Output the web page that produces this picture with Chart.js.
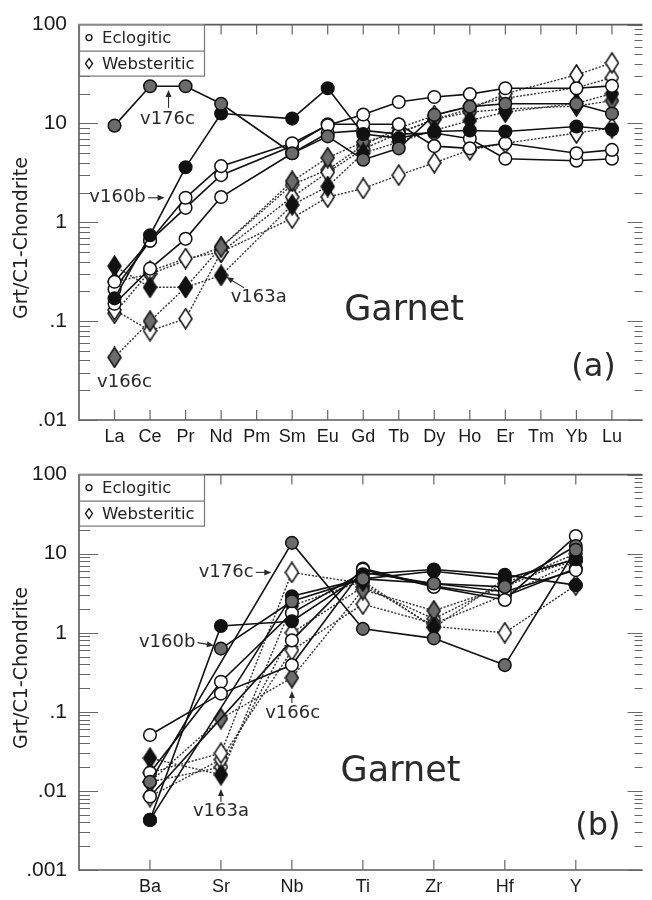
<!DOCTYPE html>
<html>
<head>
<meta charset="utf-8">
<script src="https://cdn.jsdelivr.net/npm/chart.js@4.4.0/dist/chart.umd.min.js"></script>
<style>
  body { margin: 0; background: #fff; }
  .panel { position: absolute; left: 0; width: 652px; height: 450px; }
</style>
</head>
<body>
<div class="panel" style="top:0"><canvas id="reeChart" width="652" height="450"></canvas></div>
<div class="panel" style="top:450px"><canvas id="traceChart" width="652" height="450"></canvas></div>
<script>
// ---- (a) rare earth elements, garnet / C1 chondrite ----
const reeLabels = ['La', 'Ce', 'Pr', 'Nd', 'Pm', 'Sm', 'Eu', 'Gd', 'Tb', 'Dy', 'Ho', 'Er', 'Tm', 'Yb', 'Lu'];
const reeTicks = [0.01, 0.1, 1, 10, 100];

// eclogitic garnets
const reeV176c = [9.5, 23.8, 23.8, 15.8, null, 5.0, 7.4, 4.3, 5.6, 12.2, 14.8, 15.8, null, 15.8, 12.6];
const reeV160b = [0.17, 0.74, 3.6, 12.6, null, 11.2, 22.7, 7.8, 7.1, 8.3, 8.5, 8.3, null, 9.3, 8.7];
const reeEclA = [0.25, 0.65, 1.77, 3.7, null, 6.3, 9.6, 12.3, 16.5, 18.5, 19.8, 22.7, null, 22.7, 24];
const reeEclB = [0.21, 0.65, 1.4, 3.0, null, 5.9, 9.8, 9.8, 9.8, 5.9, 5.6, 6.3, null, 5.0, 5.4];
const reeEclC = [0.15, 0.34, 0.68, 1.8, null, 5.0, 8.0, 8.5, 7.8, 8.0, 7.0, 4.4, null, 4.2, 4.4];
// websteritic garnets
const reeV163a = [0.36, 0.22, 0.22, 0.29, null, 1.5, 2.3, 5.0, 6.5, 8.5, 10.7, 13, null, 16, 20];
const reeV166c = [0.043, 0.10, 0.22, 0.56, null, 2.6, 4.5, 6.5, 8.0, 11, 13, 14, null, 15, 17];
const reeWebA = [0.13, 0.08, 0.106, 0.5, null, 1.1, 1.8, 2.2, 3.0, 4.0, 5.4, 6.3, null, 8.0, 9.0];
const reeWebB = [0.12, 0.32, 0.43, 0.5, null, 1.8, 3.2, 5.5, 8.0, 11, 14, 20, null, 31, 41];
const reeWebC = [0.25, 0.3, null, 0.56, null, 2.4, 3.4, 6.0, 9.0, 12, 15, 18, null, 23, 29];

// ---- (b) trace elements ----
const traceLabels = ['Ba', 'Sr', 'Nb', 'Ti', 'Zr', 'Hf', 'Y'];
const traceTicks = [0.001, 0.01, 0.1, 1, 10, 100];

const trV176c = [0.013, null, 13.7, 1.12, 0.85, 0.39, 11.2];
const trV160b = [null, 0.63, 2.5, 4.8, 4.2, 3.8, 12.5];
const trEclA = [0.0043, 1.22, 1.4, 5.5, 6.3, 5.4, 4.0];
const trEclB = [0.0043, null, 2.9, 4.8, 6.0, 4.8, 8.5];
const trEclC = [0.051, 0.17, 0.39, 6.3, 3.8, 2.6, 16.7];
const trEclD = [0.017, 0.24, 1.77, 5.8, 4.2, 3.3, 6.2];
const trEclE = [0.0085, null, 0.8, 6.5, 3.9, 2.9, 6.5];

const trV163a = [0.026, 0.016, 2.2, 4.5, 1.16, 4.8, 8.0];
const trV166c = [0.013, 0.082, 0.27, 3.5, 1.9, 3.8, 9.0];
const trWebA = [0.017, 0.03, 5.8, 4.2, 1.2, 1.0, 4.0];
const trWebB = [0.0085, 0.025, 0.6, 2.3, 1.3, 3.0, 8.0];
const trWebC = [0.013, 0.02, 1.0, 3.8, 1.5, 4.2, 10];

const fills = { open: '#ffffff', black: '#111111', grey: '#6b6b6b' };

// tall diamond marker used for websteritic samples
function makeDiamond(fill) {
  const c = document.createElement('canvas');
  c.width = 15; c.height = 22;
  const g = c.getContext('2d');
  g.beginPath();
  g.moveTo(7.5, 1); g.lineTo(14, 11); g.lineTo(7.5, 21); g.lineTo(1, 11); g.closePath();
  g.fillStyle = fill; g.fill();
  g.strokeStyle = '#111'; g.lineWidth = 1.5; g.stroke();
  return c;
}
const diamonds = {
  open: makeDiamond(fills.open),
  black: makeDiamond(fills.black),
  grey: makeDiamond(fills.grey)
};

function toDataset(s) {
  const ecl = s.shape === 'circle';
  return {
    data: s.values.map((v, i) => ({ x: i, y: v })),
    showLine: true,
    spanGaps: true,
    tension: 0,
    borderColor: ecl ? '#111' : '#333',
    borderWidth: ecl ? 1.6 : 1.4,
    borderDash: ecl ? [] : [2, 1.6],
    pointStyle: ecl ? 'circle' : diamonds[s.fill],
    pointRadius: ecl ? 6.3 : 8,
    pointBackgroundColor: fills[s.fill],
    pointBorderColor: '#111',
    pointBorderWidth: 1.5,
    order: ecl ? 1 : 2
  };
}

const tickText = v => String(v).replace(/^0\./, '.');

// frame, category ticks and log minor ticks on both sides
const framePlugin = {
  id: 'frame',
  beforeDatasetsDraw(chart) {
    const { ctx, chartArea: a, scales: { x, y } } = chart;
    ctx.save();
    ctx.strokeStyle = '#5a5a5a';
    ctx.lineWidth = 1.6;
    ctx.beginPath();
    ctx.moveTo(a.right, a.top); ctx.lineTo(a.left, a.top); ctx.lineTo(a.left, a.bottom); ctx.lineTo(a.right, a.bottom);
    ctx.stroke();
    ctx.lineWidth = 1.2;
    ctx.strokeStyle = '#666';
    ctx.beginPath();
    x.ticks.forEach(t => {
      const px = x.getPixelForValue(t.value);
      ctx.moveTo(px, a.top); ctx.lineTo(px, a.top + 10);
      ctx.moveTo(px, a.bottom); ctx.lineTo(px, a.bottom - 10);
    });
    for (let d = Math.round(Math.log10(y.min)); d <= Math.round(Math.log10(y.max)); d++) {
      for (let m = 1; m <= 9; m++) {
        const v = m * Math.pow(10, d);
        if (v > y.max * 1.0001) break;
        const py = Math.round(y.getPixelForValue(v)) + 0.5;
        ctx.moveTo(a.left, py); ctx.lineTo(a.left + (m === 1 ? 19 : 11), py);
        ctx.moveTo(a.right, py); ctx.lineTo(a.right - (m === 1 ? 15 : 8), py);
      }
    }
    ctx.stroke();
    ctx.restore();
  }
};

function arrow(ctx, x0, y0, x1, y1) {
  const ang = Math.atan2(y1 - y0, x1 - x0);
  ctx.beginPath();
  ctx.moveTo(x0, y0); ctx.lineTo(x1 - 5 * Math.cos(ang), y1 - 5 * Math.sin(ang));
  ctx.stroke();
  ctx.beginPath();
  ctx.moveTo(x1, y1);
  ctx.lineTo(x1 - 7 * Math.cos(ang) + 3 * Math.sin(ang), y1 - 7 * Math.sin(ang) - 3 * Math.cos(ang));
  ctx.lineTo(x1 - 7 * Math.cos(ang) - 3 * Math.sin(ang), y1 - 7 * Math.sin(ang) + 3 * Math.cos(ang));
  ctx.closePath();
  ctx.fill();
}

// legend box, sample labels, panel name and the y axis title
const notesPlugin = {
  id: 'notes',
  afterDatasetsDraw(chart, args, opts) {
    const { ctx, chartArea: a, scales: { x, y } } = chart;
    ctx.save();
    ctx.fillStyle = '#fff';
    ctx.fillRect(a.left, a.top, 125, 51);
    ctx.strokeStyle = '#777';
    ctx.lineWidth = 1.2;
    ctx.strokeRect(a.left + 0.5, a.top + 0.5, 125, 51);
    ctx.beginPath();
    ctx.moveTo(a.left, a.top + 26.5); ctx.lineTo(a.left + 125, a.top + 26.5);
    ctx.stroke();
    ctx.strokeStyle = '#111';
    ctx.lineWidth = 1.3;
    ctx.beginPath();
    ctx.arc(a.left + 10, a.top + 13, 3, 0, Math.PI * 2);
    ctx.stroke();
    ctx.beginPath();
    const dx = a.left + 10, dy = a.top + 39;
    ctx.moveTo(dx, dy - 5); ctx.lineTo(dx + 3.5, dy); ctx.lineTo(dx, dy + 5); ctx.lineTo(dx - 3.5, dy); ctx.closePath();
    ctx.stroke();
    ctx.fillStyle = '#222';
    ctx.font = '16.5px "DejaVu Sans"';
    ctx.textBaseline = 'middle';
    ctx.textAlign = 'left';
    ctx.fillText('Eclogitic', a.left + 23, a.top + 14);
    ctx.fillText('Websteritic', a.left + 23, a.top + 40);

    ctx.fillStyle = '#2a2a2a';
    ctx.strokeStyle = '#2a2a2a';
    ctx.lineWidth = 1.1;
    opts.texts.forEach(t => {
      ctx.font = t.font;
      ctx.textAlign = t.align;
      ctx.fillText(t.text, x.getPixelForValue(t.x), y.getPixelForValue(t.y));
    });
    opts.arrows.forEach(r => {
      arrow(ctx, x.getPixelForValue(r[0]), y.getPixelForValue(r[1]),
        x.getPixelForValue(r[2]), y.getPixelForValue(r[3]));
    });

    ctx.translate(22, opts.titleY);
    ctx.rotate(-Math.PI / 2);
    ctx.font = '19px "DejaVu Sans"';
    ctx.textAlign = 'center';
    ctx.fillStyle = '#222';
    ctx.fillText('Grt/C1-Chondrite', 0, 0);
    ctx.restore();
  }
};

function makePanel(id, labels, series, yTicks, xMax, padTop, notes) {
  return new Chart(document.getElementById(id), {
    type: 'line',
    data: { datasets: series.map(toDataset) },
    plugins: [framePlugin, notesPlugin],
    options: {
      responsive: false,
      animation: false,
      devicePixelRatio: 1,
      layout: { padding: { top: padTop, right: 0, bottom: 0, left: 0 } },
      plugins: { legend: { display: false }, tooltip: { enabled: false }, notes: notes },
      scales: {
        x: {
          type: 'linear',
          min: -1,
          max: xMax,
          afterFit: s => { s.height = 30; },
          afterBuildTicks: s => { s.ticks = labels.map((_, i) => ({ value: i })); },
          grid: { display: false, drawTicks: false },
          border: { display: false },
          ticks: {
            autoSkip: false, maxRotation: 0, padding: 6, color: '#1a1a1a',
            font: { family: '"Liberation Sans"', size: 18 },
            callback: v => labels[v]
          }
        },
        y: {
          type: 'logarithmic',
          min: yTicks[0],
          max: yTicks[yTicks.length - 1],
          afterFit: s => { s.width = 79; },
          afterBuildTicks: s => { s.ticks = yTicks.map(v => ({ value: v })); },
          grid: { display: false, drawTicks: false },
          border: { display: false },
          ticks: {
            padding: 12, color: '#1a1a1a',
            font: { family: '"Liberation Sans"', size: 21 },
            callback: v => tickText(v)
          }
        }
      }
    }
  });
}

makePanel('reeChart', reeLabels, [
  { values: reeV163a, shape: 'diamond', fill: 'black' },
  { values: reeV166c, shape: 'diamond', fill: 'grey' },
  { values: reeWebA, shape: 'diamond', fill: 'open' },
  { values: reeWebB, shape: 'diamond', fill: 'open' },
  { values: reeWebC, shape: 'diamond', fill: 'open' },
  { values: reeV176c, shape: 'circle', fill: 'grey' },
  { values: reeV160b, shape: 'circle', fill: 'black' },
  { values: reeEclA, shape: 'circle', fill: 'open' },
  { values: reeEclB, shape: 'circle', fill: 'open' },
  { values: reeEclC, shape: 'circle', fill: 'open' }
], reeTicks, 14.86, 16, {
  titleY: 238,
  texts: [
    { text: 'v176c', x: 1.49, y: 11, align: 'center', font: '18px "DejaVu Sans"' },
    { text: 'v160b', x: 0.88, y: 1.77, align: 'right', font: '18px "DejaVu Sans"' },
    { text: 'v163a', x: 3.27, y: 0.173, align: 'left', font: '18px "DejaVu Sans"' },
    { text: 'v166c', x: 0.28, y: 0.0243, align: 'center', font: '18px "DejaVu Sans"' },
    { text: 'Garnet', x: 8.15, y: 0.128, align: 'center', font: '35px "DejaVu Sans"' },
    { text: '(a)', x: 13.48, y: 0.0335, align: 'center', font: '32px "DejaVu Sans"' }
  ],
  arrows: [
    [1.52, 14.4, 1.52, 21.8],
    [0.94, 1.77, 1.41, 1.77],
    [3.65, 0.217, 3.15, 0.279]
  ]
});

makePanel('traceChart', traceLabels, [
  { values: trV163a, shape: 'diamond', fill: 'black' },
  { values: trV166c, shape: 'diamond', fill: 'grey' },
  { values: trWebA, shape: 'diamond', fill: 'open' },
  { values: trWebB, shape: 'diamond', fill: 'open' },
  { values: trWebC, shape: 'diamond', fill: 'open' },
  { values: trV176c, shape: 'circle', fill: 'grey' },
  { values: trV160b, shape: 'circle', fill: 'grey' },
  { values: trEclA, shape: 'circle', fill: 'black' },
  { values: trEclB, shape: 'circle', fill: 'black' },
  { values: trEclC, shape: 'circle', fill: 'open' },
  { values: trEclD, shape: 'circle', fill: 'open' },
  { values: trEclE, shape: 'circle', fill: 'open' }
], traceTicks, 6.94, 15, {
  titleY: 218,
  texts: [
    { text: 'v176c', x: 1.46, y: 5.8, align: 'right', font: '18px "DejaVu Sans"' },
    { text: 'v160b', x: 0.64, y: 0.75, align: 'right', font: '18px "DejaVu Sans"' },
    { text: 'v166c', x: 2.01, y: 0.097, align: 'center', font: '18px "DejaVu Sans"' },
    { text: 'v163a', x: 1.0, y: 0.0055, align: 'center', font: '18px "DejaVu Sans"' },
    { text: 'Garnet', x: 3.53, y: 0.0172, align: 'center', font: '35px "DejaVu Sans"' },
    { text: '(b)', x: 6.31, y: 0.0035, align: 'center', font: '32px "DejaVu Sans"' }
  ],
  arrows: [
    [1.49, 5.8, 1.71, 5.8],
    [0.67, 0.75, 0.90, 0.69],
    [2.0, 0.129, 2.0, 0.184],
    [1.0, 0.0073, 1.0, 0.0106]
  ]
});
</script>
</body>
</html>
